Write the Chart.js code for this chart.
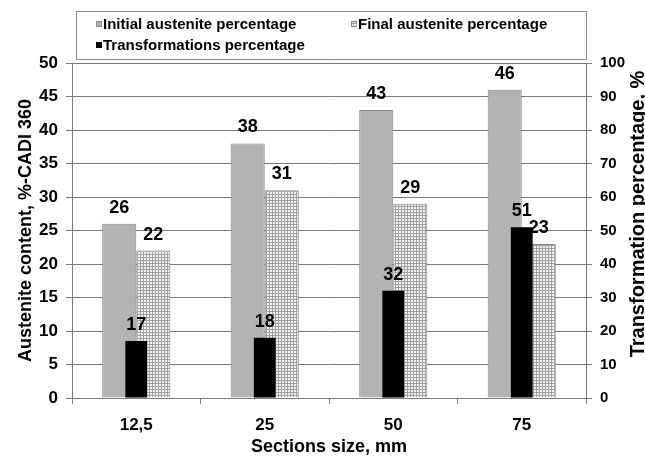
<!DOCTYPE html>
<html>
<head>
<meta charset="utf-8">
<script src="https://cdn.jsdelivr.net/npm/chart.js@4.4.1/dist/chart.umd.min.js"></script>
<style>
  html, body { margin: 0; padding: 0; background: #fff; }
  canvas { display: block; }
</style>
</head>
<body>
<canvas id="chart" width="645" height="459"></canvas>
<script>
// Section sizes (mm) and measured percentages
const sections = ['12,5', '25', '50', '75'];
const initialAustenite = [26, 38, 43, 46];
const finalAustenite = [22, 31, 29, 23];
const transformations = [17, 18, 32, 51];
const seriesNames = ['Initial austenite percentage', 'Final austenite percentage', 'Transformations percentage'];
const austeniteAxis = [0, 50, 5];        // min, max, step
const transformationAxis = [0, 100, 10]; // min, max, step
const rightAxisTitle = 'Transformation percentage, %';

const FONT = '"Liberation Sans", Arial, Helvetica, sans-serif';
const GRID = '#7a7a7a';

const canvas = document.getElementById('chart');
const ctx = canvas.getContext('2d');

// Fine dotted fill used for the final austenite bars
function dottedFill() {
  const tile = document.createElement('canvas');
  tile.width = 3; tile.height = 3;
  const g = tile.getContext('2d');
  g.fillStyle = '#a0a0a0';
  g.fillRect(0, 0, 3, 3);
  g.fillStyle = '#f2f2f2';
  g.fillRect(0, 0, 2, 2);
  return ctx.createPattern(tile, 'repeat');
}
const dots = dottedFill();

// Boxed two-column legend above the plot
const boxedLegend = {
  id: 'boxedLegend',
  afterDraw(chart) {
    const c = chart.ctx;
    const ds = chart.data.datasets;
    c.save();
    c.strokeStyle = '#8a8a8a';
    c.lineWidth = 1;
    c.strokeRect(76.5, 11.5, 510, 48);
    const slots = [[96, 24], [351, 24], [96, 45]];
    c.font = 'bold 15px ' + FONT;
    c.textBaseline = 'middle';
    c.textAlign = 'left';
    ds.forEach((d, i) => {
      const [x, y] = slots[i];
      c.fillStyle = d.backgroundColor;
      c.fillRect(x, y - 3, 6, 6);
      if (d.borderWidth) {
        c.strokeStyle = d.borderColor;
        c.strokeRect(x + 0.5, y - 2.5, 5, 5);
      }
      c.fillStyle = '#000';
      c.fillText(d.label, x + 7, y + 1);
    });
    c.restore();
  }
};

// Right-hand axis title, reading bottom to top like the left one
const rightTitle = {
  id: 'rightTitle',
  afterDraw(chart) {
    const c = chart.ctx;
    c.save();
    c.translate(638, 214);
    c.rotate(-Math.PI / 2);
    c.font = 'bold 20px ' + FONT;
    c.fillStyle = '#000';
    c.textAlign = 'center';
    c.textBaseline = 'middle';
    c.fillText(rightAxisTitle, 0, 0);
    c.restore();
  }
};

// Value labels above every bar
const valueLabels = {
  id: 'valueLabels',
  afterDatasetsDraw(chart) {
    const c = chart.ctx;
    c.save();
    c.font = 'bold 18px ' + FONT;
    c.fillStyle = '#000';
    c.textAlign = 'center';
    c.textBaseline = 'alphabetic';
    chart.data.datasets.forEach((d, i) => {
      const meta = chart.getDatasetMeta(i);
      meta.data.forEach((bar, j) => {
        c.fillText(String(d.data[j]), bar.x, bar.y - 11);
      });
    });
    c.restore();
  }
};

const tickFont = { family: FONT, size: 17, weight: 'bold' };

new Chart(canvas, {
  type: 'bar',
  data: {
    labels: sections,
    datasets: [
      {
        label: seriesNames[0],
        data: initialAustenite,
        yAxisID: 'y',
        backgroundColor: '#b2b2b2',
        borderColor: '#8a8a8a',
        borderWidth: 1,
        categoryPercentage: 0.53,
        barPercentage: 1.0,
        order: 1
      },
      {
        label: seriesNames[1],
        data: finalAustenite,
        yAxisID: 'y',
        backgroundColor: dots,
        borderColor: '#8a8a8a',
        borderWidth: 1,
        categoryPercentage: 0.53,
        barPercentage: 1.0,
        order: 1
      },
      {
        label: seriesNames[2],
        data: transformations,
        yAxisID: 'y1',
        backgroundColor: '#000000',
        borderColor: '#000000',
        borderWidth: 0,
        grouped: false,
        categoryPercentage: 0.53,
        barPercentage: 0.32,
        order: 0
      }
    ]
  },
  options: {
    responsive: false,
    animation: false,
    layout: { padding: { top: 63, left: 0, right: 0, bottom: 0 } },
    plugins: {
      legend: { display: false },
      tooltip: { enabled: false }
    },
    scales: {
      x: {
        offset: true,
        grid: { offset: true, drawOnChartArea: false, tickLength: 6, color: GRID },
        border: { display: true, color: GRID },
        ticks: { padding: 11, color: '#000', font: tickFont },
        title: {
          display: true, text: 'Sections size, mm', color: '#000',
          font: { family: FONT, size: 18, weight: 'bold' },
          padding: { top: 0, bottom: 1 }
        },
        afterFit(scale) { scale.height = 61; }
      },
      y: {
        position: 'left',
        min: austeniteAxis[0], max: austeniteAxis[1],
        ticks: { stepSize: austeniteAxis[2], padding: 8, color: '#000', font: tickFont },
        grid: { color: GRID, tickLength: 6 },
        border: { display: true, color: GRID },
        title: {
          display: true, text: 'Austenite content, %-CADI 360', color: '#000',
          font: { family: FONT, size: 18, weight: 'bold' },
          padding: { top: 15, bottom: 0 }
        },
        afterFit(scale) { scale.width = 72; }
      },
      y1: {
        position: 'right',
        min: transformationAxis[0], max: transformationAxis[1],
        ticks: { stepSize: transformationAxis[2], padding: 8, color: '#000', font: { family: FONT, size: 15, weight: 'bold' } },
        grid: { drawOnChartArea: false, color: GRID, tickLength: 6 },
        border: { display: true, color: GRID },
        afterFit(scale) { scale.width = 59; }
      }
    }
  },
  plugins: [valueLabels, boxedLegend, rightTitle]
});
</script>
</body>
</html>
